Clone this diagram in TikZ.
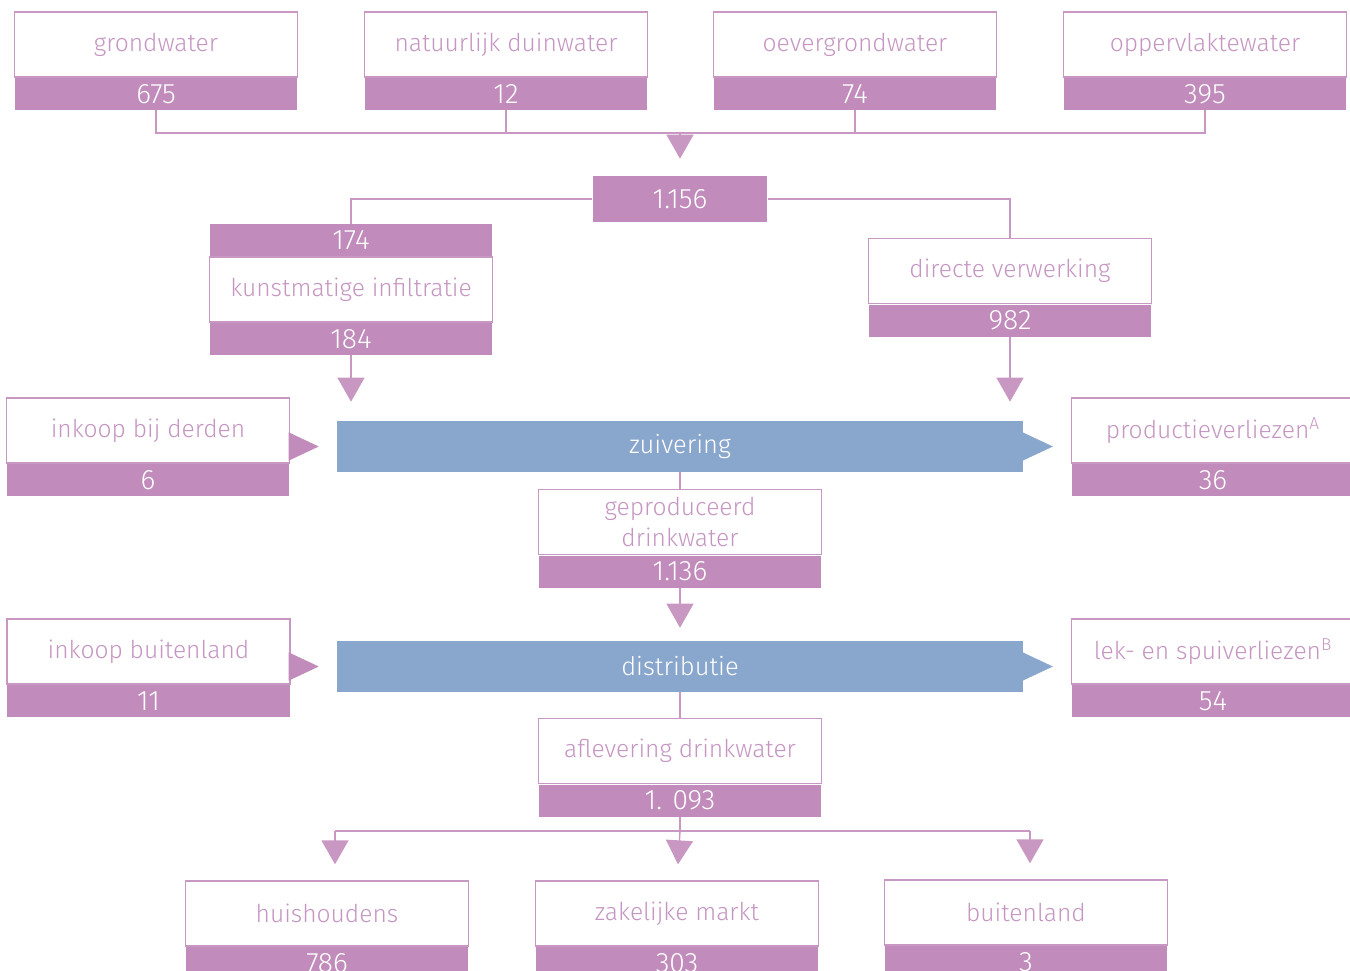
\documentclass[tikz,border=0pt]{standalone}
\usepackage{fontspec}
\setmainfont{Fira Sans Light}
\usepackage{tikz}
\usetikzlibrary{arrows.meta,positioning}
\definecolor{wpurple}{RGB}{193,140,187}
\definecolor{wline}{RGB}{200,152,195}
\definecolor{wtext}{RGB}{198,150,194}
\definecolor{wblue}{RGB}{137,167,205}
\tikzset{
  namebox/.style={draw=wline, line width=0.8pt, fill=white, text=wtext,
    minimum width=5.66cm, minimum height=1.3cm, inner sep=0pt,
    font=\fontsize{14}{18}\selectfont},
  valbar/.style={fill=wpurple, text=white, minimum width=5.66cm,
    minimum height=0.64cm, inner sep=0pt, font=\fontsize{16}{18}\selectfont},
  flowbar/.style={fill=wblue, text=white, minimum width=13.72cm,
    minimum height=1.02cm, inner sep=0pt, font=\fontsize{14.5}{17}\selectfont},
  link/.style={draw=wline, line width=0.8pt},
  downtip/.style={-{Triangle[width=0.54cm,length=0.48cm]}},
  sidetip/.style={-{Triangle[width=0.56cm,length=0.6cm]}}
}
\begin{document}
\begin{tikzpicture}[x=0.02cm,y=-0.02cm]
\useasboundingbox (0,0) rectangle (1350,971);
\clip (0,0) rectangle (1350,971);
% sources
\foreach \n/\x/\lbl/\val in {grond/156/grondwater/675,
  duin/506/natuurlijk duinwater/12, oever/855/oevergrondwater/74,
  opper/1205/oppervlaktewater/395} {
  \node[namebox] (\n) at (\x,44.5) {\lbl};
  \node[valbar, below=0pt of \n] (\n val) {\val};
}
\coordinate (merge) at (680,133);
\draw[link] (grondval.south) |- (merge) -| (opperval.south);
\draw[link] (duinval.south) -- (duinval.south |- merge);
\draw[link] (oeverval.south) -- (oeverval.south |- merge);
% total winning
\node[valbar, minimum width=3.5cm, minimum height=0.92cm] (totaal) at (680,199) {1.156};
\draw[link, downtip, shorten >=0.34cm] (merge) -- (totaal);
% infiltratie and direct
\node[valbar] (kunstin) at (351,240) {174};
\node[namebox, below=0pt of kunstin] (kunst) {kunstmatige infiltratie};
\node[valbar, below=0pt of kunst] (kunstval) {184};
\node[namebox] (direct) at (1010,271) {directe verwerking};
\node[valbar, below=0pt of direct] (directval) {982};
\draw[link] (totaal.west) -| (kunstin.north);
\draw[link] (totaal.east) -| (direct.north);
% zuivering
\node[flowbar] (zuiv) at (680,446.5) {zuivering};
\draw[link, downtip, shorten >=0.38cm] (kunstval.south) -- (kunstval.south |- zuiv.north);
\draw[link, downtip, shorten >=0.38cm] (directval.south) -- (directval.south |- zuiv.north);
\node[namebox] (derden) at (148,430.5) {inkoop bij derden};
\node[valbar, below=0pt of derden] (derdenval) {6};
\node[namebox] (prodverl) at (1213,430.5) {productieverliezen\textsuperscript{A}};
\node[valbar, below=0pt of prodverl] (prodverlval) {36};
\draw[wpurple, sidetip, shorten >=0.36cm] (derden.east |- zuiv.west) -- (zuiv.west);
\draw[wblue, sidetip, shorten >=0.36cm] (zuiv.east) -- (prodverl.west |- zuiv.east);
% geproduceerd
\node[namebox, align=center] (geprod) at (680,522) {geproduceerd\\drinkwater};
\node[valbar, below=0pt of geprod] (geprodval) {1.136};
\draw[link] (zuiv.south) -- (geprod.north);
% distributie
\node[flowbar] (distr) at (680,666.5) {distributie};
\draw[link, downtip, shorten >=0.26cm] (geprodval.south) -- (distr.north);
\node[namebox] (buitin) at (148.5,651.5) {inkoop buitenland};
\node[valbar, below=0pt of buitin] (buitinval) {11};
\node[namebox] (lekverl) at (1213,651.5) {lek- en spuiverliezen\textsuperscript{B}};
\node[valbar, below=0pt of lekverl] (lekverlval) {54};
\draw[wpurple, sidetip, shorten >=0.36cm] (buitin.east |- distr.west) -- (distr.west);
\draw[wblue, sidetip, shorten >=0.36cm] (distr.east) -- (lekverl.west |- distr.east);
% aflevering
\node[namebox] (aflev) at (680,751) {aflevering drinkwater};
\node[valbar, below=0pt of aflev] (aflevval) {1. 093};
\draw[link] (distr.south) -- (aflev.north);
% afnemers
\node[namebox] (huis) at (327,913.5) {huishoudens};
\node[valbar, below=0pt of huis] (huisval) {786};
\node[namebox] (zakelijk) at (677,913.5) {zakelijke markt};
\node[valbar, below=0pt of zakelijk] (zakelijkval) {303};
\node[namebox] (buitland) at (1026,912.5) {buitenland};
\node[valbar, below=0pt of buitland] (buitlandval) {3};
\coordinate (split) at (aflevval.south |- 0,831);
\coordinate (huisin) at (335,831);
\coordinate (buitin) at (1030,831);
\draw[link] (aflevval.south) -- (split);
\draw[link] (huisin) -- (buitin);
\draw[link, downtip, shorten >=0.32cm] (huisin) -- (huisin |- huis.north);
\draw[link, downtip, shorten >=0.32cm] (split) -- (zakelijk.north);
\draw[link, downtip, shorten >=0.32cm] (buitin) -- (buitin |- buitland.north);
\end{tikzpicture}
\end{document}
